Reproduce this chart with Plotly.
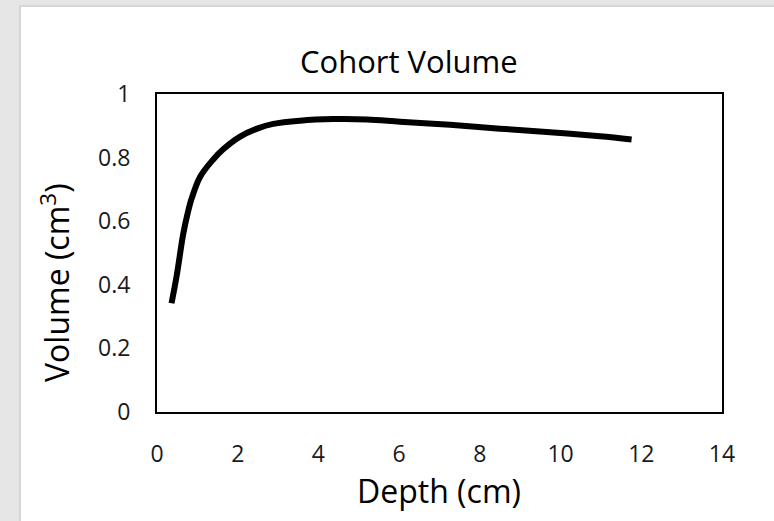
import plotly.graph_objects as go

depth = [0.36, 0.49, 0.65, 0.76, 0.86, 1.07, 1.40, 1.64, 2.06, 2.50, 2.88, 3.54, 4.37, 5.20, 6.02, 7.26, 8.50, 9.74, 10.98, 11.76]
volume = [0.342, 0.430, 0.560, 0.625, 0.672, 0.740, 0.795, 0.826, 0.866, 0.892, 0.906, 0.916, 0.921, 0.920, 0.913, 0.903, 0.891, 0.880, 0.867, 0.857]

x_ticks = [0, 2, 4, 6, 8, 10, 12, 14]
y_ticks = [0, 0.2, 0.4, 0.6, 0.8, 1]
y_tick_text = ["0", "0.2", "0.4", "0.6", "0.8", "1"]

W, H = 774, 521
L, R, T, B = 157, 722, 94, 412
pw, ph = R - L, B - T

def px(x):
    return (x - L) / pw

def py(y):
    return (B - y) / ph

FONT = "Open Sans"

fig = go.Figure()
fig.add_trace(go.Scatter(x=depth, y=volume, mode="lines",
                         line=dict(color="black", width=6, shape="spline", smoothing=1.0),
                         showlegend=False, hoverinfo="skip"))

fig.update_layout(
    width=W, height=H,
    margin=dict(l=L, r=W - R, t=T, b=H - B, pad=0),
    paper_bgcolor="#e6e6e6",
    plot_bgcolor="white",
    font=dict(family=FONT, color="#1a1a1a"),
    shapes=[dict(type="rect", xref="paper", yref="paper", layer="below",
                 x0=px(20), x1=px(776), y0=py(524), y1=py(6),
                 fillcolor="white", line=dict(color="#d6d6d6", width=2))],
    annotations=[
        dict(text="Cohort Volume", xref="paper", yref="paper", x=px(409), y=py(61),
             xanchor="center", yanchor="middle", showarrow=False,
             font=dict(size=31, family=FONT, color="black")),
        dict(text="Volume (cm<sup>3</sup>)", xref="paper", yref="paper", x=px(55), y=py(283),
             xanchor="center", yanchor="middle", showarrow=False, textangle=-90,
             font=dict(size=32, family=FONT, color="black")),
        dict(text="Depth (cm)", xref="paper", yref="paper", x=px(439), y=py(490),
             xanchor="center", yanchor="middle", showarrow=False,
             font=dict(size=32, family=FONT, color="black")),
    ],
)
fig.update_xaxes(range=[0, 14], tickvals=x_ticks, showgrid=False, zeroline=False,
                 showline=True, mirror=True, linecolor="black", linewidth=2,
                 ticks="outside", ticklen=20, tickcolor="rgba(0,0,0,0)",
                 tickfont=dict(size=23, family=FONT, color="#1a1a1a"), fixedrange=True)
fig.update_yaxes(range=[0, 1], tickvals=y_ticks, ticktext=y_tick_text, showgrid=False, zeroline=False,
                 showline=True, mirror=True, linecolor="black", linewidth=2,
                 ticks="outside", ticklen=20, tickcolor="rgba(0,0,0,0)",
                 tickfont=dict(size=23, family=FONT, color="#1a1a1a"), fixedrange=True)

fig.write_html("out.html", config={"displayModeBar": False})
